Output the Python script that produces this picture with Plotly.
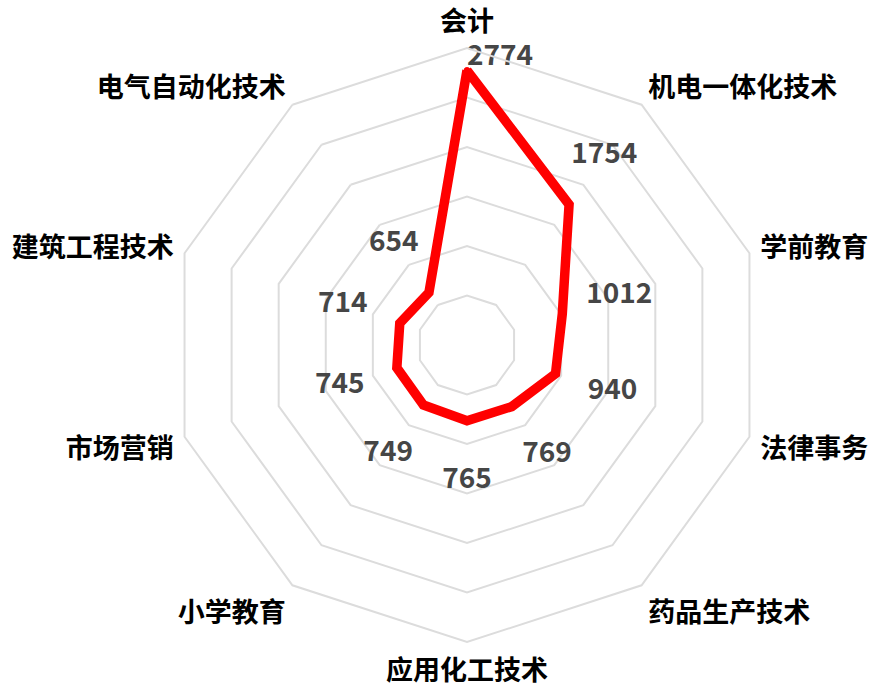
import plotly.graph_objects as go

categories = ["会计", "机电一体化技术", "学前教育", "法律事务", "药品生产技术",
              "应用化工技术", "小学教育", "市场营销", "建筑工程技术", "电气自动化技术"]
values = [2774, 1754, 1012, 940, 769, 765, 749, 745, 714, 654]
value_labels = [str(v) for v in values]

RMAX = 3000
LABEL_OFFSET = 606
label_offsets = [130] + [LABEL_OFFSET] * (len(values) - 1)
label_positions = ["middle right"] + ["middle center"] * (len(values) - 1)

FONT = "Noto Sans CJK SC"

fig = go.Figure()
fig.add_trace(go.Scatterpolar(
    r=values + [values[0]],
    theta=categories + [categories[0]],
    mode="lines+markers",
    line=dict(color="#ff0000", width=9.5),
    marker=dict(size=6, color="#ff0000"),
    hoverinfo="skip",
    showlegend=False,
))
fig.add_trace(go.Scatterpolar(
    r=[v + o for v, o in zip(values, label_offsets)],
    theta=categories,
    mode="text",
    text=value_labels,
    textposition=label_positions,
    textfont=dict(family=FONT, size=28, color="#464646", weight="bold"),
    cliponaxis=False,
    hoverinfo="skip",
    showlegend=False,
))

W, H = 874, 684
cx, cy, R = 467, 345, 297
fig.update_layout(
    width=W, height=H,
    margin=dict(l=0, r=0, t=0, b=0),
    paper_bgcolor="white",
    plot_bgcolor="white",
    showlegend=False,
    polar=dict(
        domain=dict(x=[(cx - R) / W, (cx + R) / W], y=[1 - (cy + R) / H, 1 - (cy - R) / H]),
        bgcolor="white",
        gridshape="linear",
        radialaxis=dict(range=[0, RMAX], dtick=500, showticklabels=False, ticks="",
                        showline=False, gridcolor="#dcdcdc", gridwidth=2),
        angularaxis=dict(rotation=90, direction="clockwise", showgrid=False,
                         showline=True, linecolor="#dcdcdc", linewidth=2,
                         ticks="outside", ticklen=5, tickcolor="rgba(0,0,0,0)",
                         tickfont=dict(family=FONT, size=27, color="#000000", weight="bold")),
    ),
)
fig.write_html("out.html",
               config={"displayModeBar": False},
               post_script="document.body.style.margin='0';document.body.style.overflow='hidden';")
